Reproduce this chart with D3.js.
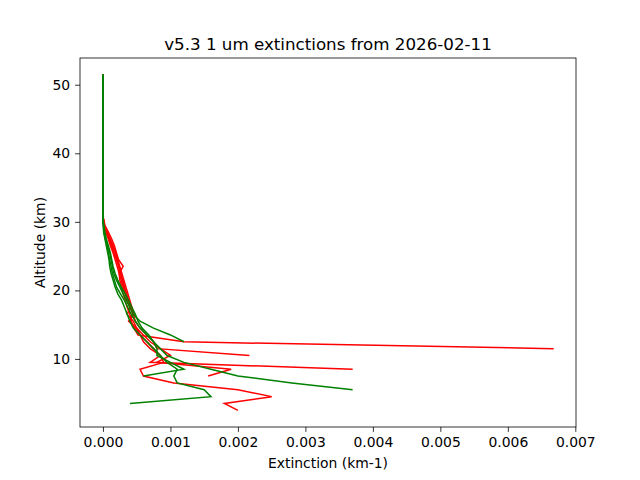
<!DOCTYPE html><html><head><script src="https://cdn.jsdelivr.net/npm/d3@7"></script>
<style>body{margin:0;background:#fff}text{font-family:"DejaVu Sans",sans-serif}</style></head><body>
<svg id="c" width="640" height="480"></svg>
<script>
// altitudes (km), top to bottom
const altitudes=[51.5,48.5,45.5,42.5,39.5,36.5,33.5,30.5,29.5,28.5,27.5,26.5,25.5,24.5,23.5,22.5,21.5,20.5,19.5,18.5,17.5,16.5,15.5,14.5,13.5,12.5,11.5,10.5,9.5,8.5,7.5,6.5,5.5,4.5,3.5,2.5];
// extinction values in units of 1e-4 km-1
const red1=[0,0,0,0,0,0,0,0.05,0.3,0.8,1.3,1.7,2.0,2.3,3.0,2.4,2.5,2.8,3.0,3.3,3.6,4.0,4.2,4.6,5.2,12,66.8];
const red2=[0,0,0,0,0,0,0,0.05,0.2,0.6,1.0,1.4,1.8,2.1,2.4,2.6,2.9,3.1,3.4,3.7,4.1,4.5,4.8,5.5,6.5,7.5,8.0,21.7];
const red3=[0,0,0,0,0,0,0,0.05,0.2,0.5,0.9,1.3,1.6,2.0,2.3,2.6,2.9,3.2,3.5,3.8,4.1,4.4,4.0,4.8,5.5,6.0,7.0,8.5,7.0,37];
const red4=[0,0,0,0,0,0,0,0.05,0.1,0.4,0.8,1.1,1.5,1.8,2.1,2.4,2.7,3.0,3.3,3.6,4.0,3.6,4.5,5.0,5.5,6.5,7.5,8.5,9.0,5.5,6.0,10.5,20,25,18,20];
const red5=[0,0,0,0,0,0,0,0.05,0.2,0.6,1.1,1.5,1.9,2.2,2.5,2.8,3.1,3.4,3.7,4.0,4.3,4.6,3.8,5.0,6.0,7.0,8.5,10,8.0,19,15.6];
const green1=[0,0,0,0,0,0,0,0,0.05,0.1,0.3,0.5,0.7,0.9,1.0,1.2,1.5,1.8,2.2,2.8,3.2,3.6,4.0,4.5,5.5,6.5,7.5,8.5,9.5,11,10.5,11,15,16,4];
const green2=[0,0,0,0,0,0,0,0,0.05,0.15,0.35,0.6,0.8,1.0,1.2,1.4,1.7,2.0,2.6,3.2,3.7,4.2,4.8,5.5,6.5,7.5,8.5,9.5,12,16,20,28,37];
const green3=[0,0,0,0,0,0,0,0,0.1,0.2,0.4,0.7,1.0,1.2,1.4,1.6,2.0,2.5,3.0,3.5,4.0,4.5,5.5,7.5,10,12];
const green4=[0,0,0,0,0,0,0,0,0.1,0.3,0.5,0.8,1.1,1.3,1.5,1.8,2.2,2.7,3.3,3.8,4.3,4.8,5.2,5.8,6.8,7.5,8.0,8.0,10,12,6];
const series=[[red1,"red"],[red2,"red"],[red3,"red"],[red4,"red"],[red5,"red"],[green1,"green"],[green2,"green"],[green3,"green"],[green4,"green"]];
const xTicks=[0,0.001,0.002,0.003,0.004,0.005,0.006,0.007];
const yTicks=[10,20,30,40,50];

const svg=d3.select("#c");
const L=80,R=576,T=58,B=427;
const x=d3.scaleLinear().domain([-0.00034,0.00701]).range([L,R]);
const y=d3.scaleLinear().domain([0.07,53.9]).range([B,T]);
const line=d3.line().x(d=>x(d[1]*1e-4)).y(d=>y(d[0]));
series.forEach(([v,c])=>{
  svg.append("path").attr("d",line(v.map((e,i)=>[altitudes[i],e]))).attr("fill","none").attr("stroke",c).attr("stroke-width",1.5);
});
svg.append("g").attr("transform",`translate(0,${B})`).call(d3.axisBottom(x).tickValues(xTicks).tickFormat(d3.format(".3f")).tickSize(4.9).tickPadding(4.9));
svg.append("g").attr("transform",`translate(${L},0)`).call(d3.axisLeft(y).tickValues(yTicks).tickSize(4.9).tickPadding(4.9));
svg.selectAll(".domain").remove();
svg.selectAll(".tick text").attr("font-size",13.9).attr("fill","#000");
svg.selectAll(".tick line").attr("stroke","#000").attr("stroke-width",0.8);
svg.append("rect").attr("x",L).attr("y",T).attr("width",R-L).attr("height",B-T).attr("fill","none").attr("stroke","#000").attr("stroke-width",0.8);
svg.append("text").attr("x",(L+R)/2).attr("y",T-8).attr("text-anchor","middle").attr("font-size",16.7).text("v5.3 1 um extinctions from 2026-02-11");
svg.append("text").attr("x",(L+R)/2).attr("y",468).attr("text-anchor","middle").attr("font-size",13.9).text("Extinction (km-1)");
svg.append("text").attr("transform",`translate(45,${(T+B)/2}) rotate(-90)`).attr("text-anchor","middle").attr("font-size",13.9).text("Altitude (km)");
</script></body></html>
